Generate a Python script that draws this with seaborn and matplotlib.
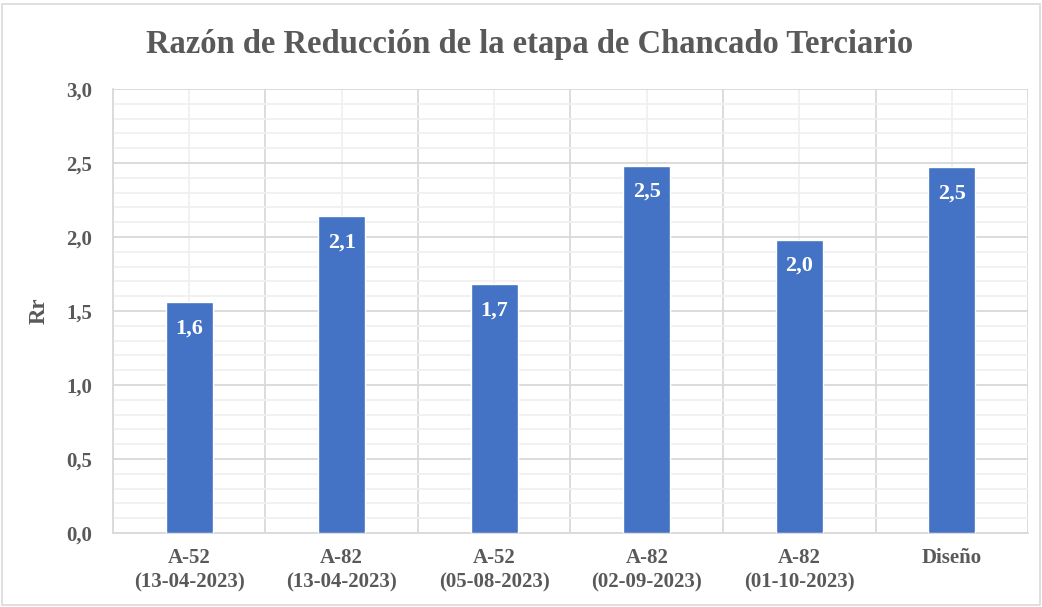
import matplotlib
matplotlib.use("Agg")
import matplotlib.pyplot as plt
import seaborn as sns
import pandas as pd
from matplotlib.ticker import MultipleLocator, FixedLocator
from matplotlib.patches import Rectangle

categories = ["A-52\n(13-04-2023)", "A-82\n(13-04-2023)", "A-52\n(05-08-2023)",
              "A-82\n(02-09-2023)", "A-82\n(01-10-2023)", "Diseño"]
values = [1.56, 2.14, 1.68, 2.48, 1.98, 2.47]
yticks = [0.0, 0.5, 1.0, 1.5, 2.0, 2.5, 3.0]

sns.set_theme(style="white")
plt.rcParams["font.family"] = ["Liberation Serif", "DejaVu Serif"]

TXT = "#595959"
MAJ = "#d9d9d9"
MIN = "#f0f0f0"

fig = plt.figure(figsize=(10.42, 6.07), dpi=100)
ax = fig.add_axes([0.1084, 0.1219, 0.8782, 0.7315])

df = pd.DataFrame({"cat": categories, "val": values})
sns.barplot(data=df, x="cat", y="val", color="#4472C4", width=0.31,
            saturation=1, ax=ax, zorder=3)

ax.set_xlim(-0.5, len(categories) - 0.5)
ax.set_ylim(0, 3.0)
ax.yaxis.set_major_locator(FixedLocator(yticks))
ax.yaxis.set_minor_locator(MultipleLocator(0.1))
ax.set_yticklabels([f"{t:.1f}".replace(".", ",") for t in yticks])
ax.xaxis.set_minor_locator(FixedLocator([i - 0.5 for i in range(len(categories) + 1)]))

ax.grid(which="major", axis="y", color=MAJ, lw=1.3, zorder=1)
ax.grid(which="minor", axis="y", color=MIN, lw=1.3, zorder=0)
ax.grid(which="major", axis="x", color=MIN, lw=1.3, zorder=0)
ax.grid(which="minor", axis="x", color=MAJ, lw=1.3, zorder=1)
ax.set_axisbelow(True)

for s in ["top", "right"]:
    ax.spines[s].set_visible(False)
for s in ["left", "bottom"]:
    ax.spines[s].set_color(MAJ)
    ax.spines[s].set_linewidth(1.3)

ax.tick_params(which="both", length=0)
ax.tick_params(axis="y", pad=15)
ax.tick_params(axis="x", pad=11)
for lab in ax.get_yticklabels():
    lab.set_fontsize(15); lab.set_fontweight("bold"); lab.set_color(TXT)
for lab in ax.get_xticklabels():
    lab.set_fontsize(15); lab.set_fontweight("bold"); lab.set_color(TXT)
    lab.set_linespacing(1.3)

ax.set_xlabel("")
ax.set_ylabel("Rr", fontsize=16.5, fontweight="bold", color=TXT, labelpad=12)

for cont in ax.containers:
    ax.bar_label(cont, labels=[f"{v:.1f}".replace(".", ",") for v in values],
                 padding=-26, color="white", fontsize=16, fontweight="bold")

fig.text(0.508, 0.926, "Razón de Reducción de la etapa de Chancado Terciario",
         ha="center", va="center", fontsize=23.5, fontweight="bold", color=TXT)

fig.patches.append(Rectangle((0.002, 0.004), 0.996, 0.99, transform=fig.transFigure,
                             fill=False, edgecolor="#d9d9d9", lw=1.2))

fig.savefig("out.png", dpi=100)
